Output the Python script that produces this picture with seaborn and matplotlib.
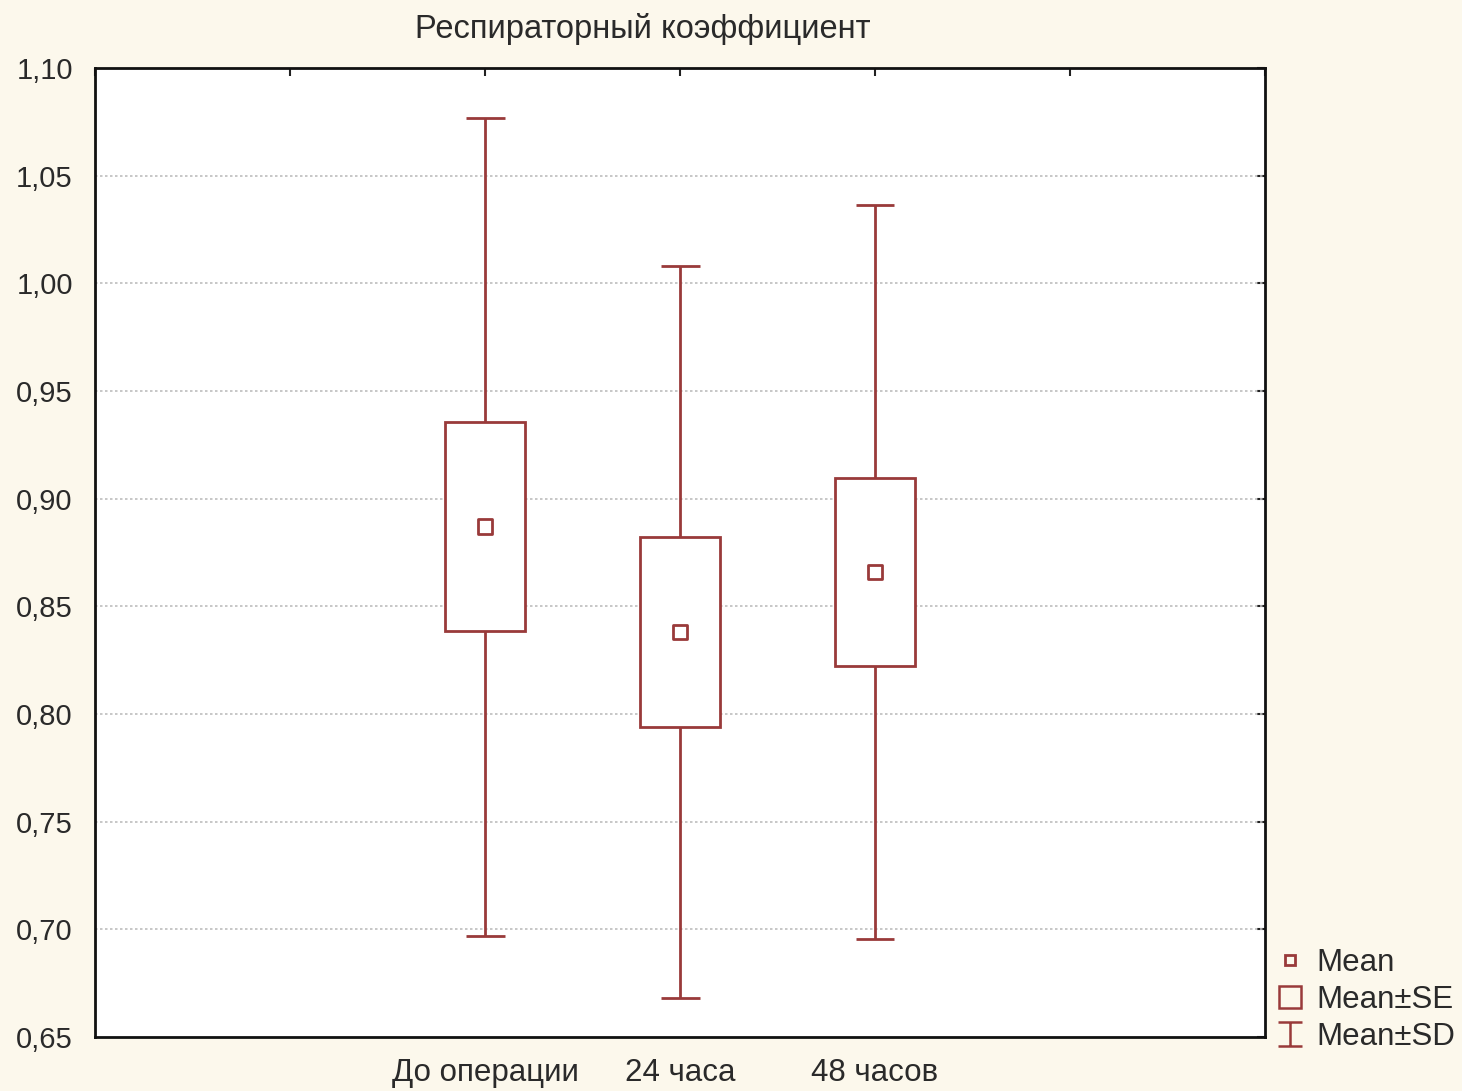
import numpy as np
import pandas as pd
import matplotlib
matplotlib.use("Agg")
import matplotlib.pyplot as plt
from matplotlib.lines import Line2D
from matplotlib.patches import Rectangle
from matplotlib.path import Path
import seaborn as sns

# ---- data ----
categories = ["До операции", "24 часа", "48 часов"]
means = [0.887, 0.838, 0.866]
se = [0.0485, 0.044, 0.0435]
sd = [0.190, 0.170, 0.1705]
yticks = [0.65, 0.70, 0.75, 0.80, 0.85, 0.90, 0.95, 1.00, 1.05, 1.10]
title = "Респираторный коэффициент"
legend_labels = ["Mean", "Mean±SE", "Mean±SD"]

# ---- style ----
sns.set_style("white")
plt.rcParams["font.family"] = ["Liberation Sans", "DejaVu Sans"]
bg = "#FCF8EC"
col = "#993A3A"
txt = "#2a2a2a"

fig = plt.figure(figsize=(14.62, 10.91), dpi=100, facecolor=bg)
ax = fig.add_axes([95 / 1462, 1 - 1037 / 1091, (1265 - 95) / 1462, (1037 - 68) / 1091])
ax.set_facecolor("white")

pos = np.arange(len(categories)) + 2
df = pd.DataFrame({"pos": pos, "mean": means, "se": se, "sd": sd, "cat": categories})

box_w = 0.41
cap_w = 0.2
for p, m, s, d in zip(df["pos"], df["mean"], df["se"], df["sd"]):
    ax.vlines(p, m - d, m + d, color=col, lw=2, zorder=2)
    ax.hlines([m - d, m + d], p - cap_w / 2, p + cap_w / 2, color=col, lw=2, zorder=2)
    ax.add_patch(Rectangle((p - box_w / 2, m - s), box_w, 2 * s, facecolor="white",
                           edgecolor=col, lw=2, zorder=3))

sns.scatterplot(data=df, x="pos", y="mean", marker="s", s=110, facecolor="none",
                edgecolor=col, linewidth=2, ax=ax, zorder=4, legend=False)

ax.set_xlim(0, 6)
ax.set_ylim(0.65, 1.10)
ax.set_xticks(np.arange(0, 7))
xlabels = [""] * 7
for p, c in zip(pos, categories):
    xlabels[p] = c
ax.set_xticklabels(xlabels, fontsize=22.5, color=txt)
ax.set_yticks(yticks)
ax.set_yticklabels([f"{v:.2f}".replace(".", ",") for v in yticks], fontsize=21, color=txt)
ax.set_xlabel("")
ax.set_ylabel("")
ax.tick_params(direction="in", length=6, width=1.5, top=True, right=True,
               colors="#222222")
ax.tick_params(axis="y", pad=16)
ax.tick_params(axis="x", pad=15)
for lbl in ax.get_xticklabels() + ax.get_yticklabels():
    lbl.set_color(txt)
for v in yticks[1:-1]:
    ax.axhline(v, color="#bdbdbd", lw=1.2, ls=(0, (1.5, 1.5)), zorder=1)
for sp in ax.spines.values():
    sp.set_visible(True)
    sp.set_color("#111111")
    sp.set_linewidth(2)

fig.text(643 / 1462, 1 - 29 / 1091, title, ha="center", va="center", fontsize=23.5, color=txt)

ibeam = Path([(-1, 1), (1, 1), (0, 1), (0, -1), (-1, -1), (1, -1)],
             [Path.MOVETO, Path.LINETO, Path.MOVETO, Path.LINETO, Path.MOVETO, Path.LINETO])
handles = [
    Line2D([], [], ls="none", marker="s", markersize=7, markerfacecolor="none",
           markeredgecolor=col, markeredgewidth=2),
    Line2D([], [], ls="none", marker="s", markersize=16.5, markerfacecolor="none",
           markeredgecolor=col, markeredgewidth=1.8),
    Line2D([], [], ls="none", marker=ibeam, markersize=17, markerfacecolor="none",
           markeredgecolor=col, markeredgewidth=1.8),
]
leg = fig.legend(handles, legend_labels, loc="lower left",
                 bbox_to_anchor=(1276 / 1462, 1 - 1052 / 1091), frameon=False,
                 fontsize=22.5, handlelength=0.9, handletextpad=0.4,
                 labelspacing=0.22, borderpad=0, borderaxespad=0)
for t in leg.get_texts():
    t.set_color(txt)

fig.savefig("out.png", dpi=100, facecolor=bg)
